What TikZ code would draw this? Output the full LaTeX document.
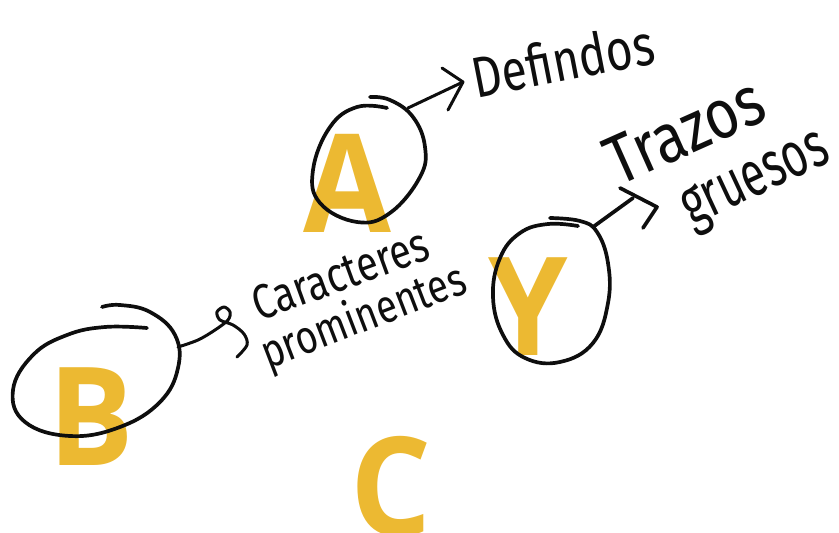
\documentclass[tikz,border=0pt]{standalone}
\usepackage{fontspec}
\newfontfamily\letterfont{Open Sans}
\newfontfamily\handfont{Fira Sans}
\definecolor{mustard}{RGB}{236,185,50}
\definecolor{ink}{RGB}{14,14,14}
\begin{document}
\begin{tikzpicture}[x=1pt,y=-1pt,
  letter/.style={text=mustard, font=\letterfont\bfseries\fontsize{137}{137}\selectfont,
                 inner sep=0pt, anchor=base, xscale=0.93},
  hand/.style={text=ink, inner sep=0pt},
  stroke/.style={draw=ink, line width=3.7pt, line cap=round, line join=round},
  thin stroke/.style={stroke, line width=3pt},
]
\useasboundingbox (0,0) rectangle (839,533);

% big yellow letters
\node[letter] (A) at (347,232) {A};
\node[letter] (Y) at (528,355) {Y};
\node[letter] (B) at (91,465) {B};
\node[letter] (C) at (391,535) {C};

% handwritten labels
\node[hand, font=\handfont\fontsize{46}{46}\selectfont, rotate=11, yscale=1.25]
  (def) at (563,60) {Defindos};
\node[hand, font=\handfont\fontsize{58}{58}\selectfont, rotate=24, yscale=1.2]
  (tra) at (685,131) {Trazos};
\node[hand, font=\handfont\fontsize{44}{44}\selectfont, rotate=25, yscale=1.45]
  (gru) at (757,183) {gruesos};
\node[hand, font=\handfont\fontsize{39}{39}\selectfont, rotate=20, yscale=1.25]
  (car) at (340,274) {Caracteres};
\node[hand, font=\handfont\fontsize{37.5}{37.5}\selectfont, rotate=21, yscale=1.25]
  (pro) at (364,318) {prominentes};

% loose rings drawn around three of the letters
\draw[stroke] plot[smooth, tension=0.7] coordinates {
  (387,108) (357,107) (330,127) (313,170) (320,203) (357,222) (390,213)
  (420,177) (425,147) (413,117) (390,100) (370,97)};
\draw[stroke] plot[smooth, tension=0.7] coordinates {
  (550,218) (580,221) (597,232) (608,263) (608,303) (593,343) (560,362)
  (525,358) (503,335) (493,297) (500,258) (520,233) (548,224) (578,226)};
\draw[stroke] plot[smooth, tension=0.7] coordinates {
  (147,328) (105,327) (67,335) (33,355) (13,390) (25,422) (70,436) (120,427)
  (160,402) (178,368) (175,335) (150,312) (120,305) (102,307)};

% arrow from the ring of A
\coordinate (aS) at (408,108);
\coordinate (aT) at (463,82);
\coordinate (aU) at (442,68);
\coordinate (aL) at (448,110);
\draw[thin stroke] (aS) -- (aT);
\draw[thin stroke] (aU) -- (aT) -- (aL);

% arrow from the ring of Y
\coordinate (yS) at (593,227);
\coordinate (yT) at (633,198);
\coordinate (yU) at (620,188);
\coordinate (yH) at (657,207);
\coordinate (yL) at (643,228);
\draw[stroke] (yS) -- (yT);
\draw[stroke] (yU) -- (yH) -- (yL);

% curly pointer from the ring of B
\coordinate (bS) at (178,347);
\draw[thin stroke] plot[smooth, tension=0.55] coordinates {
  (bS) (198,340) (215,330) (228,320) (230,312) (224,307) (217,312)
  (220,320) (233,325) (244,334) (247,345) (237,357)};
\end{tikzpicture}
\end{document}
